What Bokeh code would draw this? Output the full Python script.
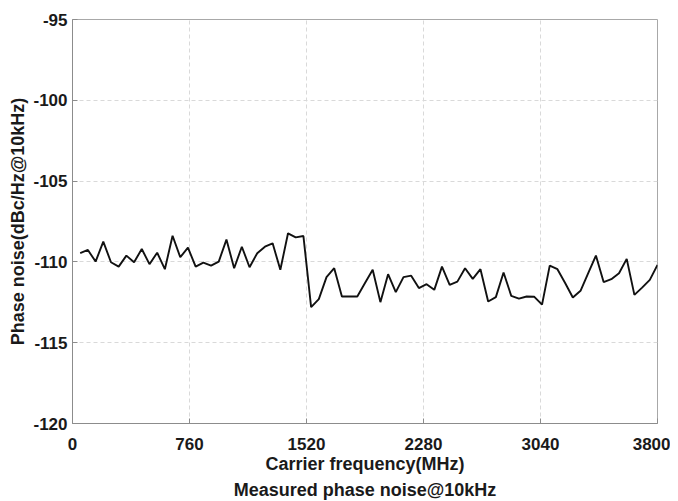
from bokeh.plotting import figure
from bokeh.models import FixedTicker, Title, Range1d, PrintfTickFormatter
from bokeh.embed import file_html
from bokeh.resources import INLINE

freq_mhz = [50, 100, 150, 200, 250, 300, 350, 400, 450, 500,
            550, 600, 650, 700, 750, 800, 850, 900, 950, 1000,
            1050, 1100, 1150, 1200, 1250, 1300, 1350, 1400, 1450, 1500,
            1550, 1600, 1650, 1700, 1750, 1800, 1850, 1900, 1950, 2000,
            2050, 2100, 2150, 2200, 2250, 2300, 2350, 2400, 2450, 2500,
            2550, 2600, 2650, 2700, 2750, 2800, 2850, 2900, 2950, 3000,
            3050, 3100, 3150, 3200, 3250, 3300, 3350, 3400, 3450, 3500,
            3550, 3600, 3650, 3700, 3750, 3800]
phase_noise = [-109.46, -109.26, -109.98, -108.75, -110.02, -110.29, -109.61, -110.02, -109.20, -110.14,
               -109.43, -110.45, -108.38, -109.71, -109.12, -110.29, -110.04, -110.23, -109.98, -108.62,
               -110.39, -109.06, -110.33, -109.46, -109.06, -108.85, -110.49, -108.23, -108.48, -108.40,
               -112.80, -112.30, -110.94, -110.39, -112.14, -112.14, -112.14, -111.31, -110.49, -112.49,
               -110.76, -111.87, -110.94, -110.85, -111.62, -111.38, -111.73, -110.29, -111.42, -111.22,
               -110.39, -111.05, -110.45, -112.45, -112.18, -110.66, -112.10, -112.27, -112.14, -112.16,
               -112.64, -110.23, -110.45, -111.31, -112.20, -111.79, -110.70, -109.61, -111.25, -111.07,
               -110.70, -109.81, -112.04, -111.59, -111.11, -110.19]

x_ticks = [0, 760, 1520, 2280, 3040, 3800]
y_ticks = [-120, -115, -110, -105, -100, -95]

x_label = "Carrier frequency(MHz)"
y_label = "Phase noise(dBc/Hz@10kHz)"
caption = "Measured phase noise@10kHz"

FONT = "Liberation Sans"
TXT = "#1a1a1a"

p = figure(width=670, height=500, output_backend="svg", toolbar_location=None,
           x_range=Range1d(0, 3800), y_range=Range1d(-120, -95),
           min_border_left=72, min_border_right=13, min_border_top=19, min_border_bottom=76)

p.line(freq_mhz, phase_noise, line_color="#111111", line_width=1.9)

p.outline_line_color = "#a8a8a8"
p.outline_line_width = 1

for ax in (p.xaxis[0], p.yaxis[0]):
    ax.axis_line_color = "#8c8c8c"
    ax.major_tick_line_color = "#8c8c8c"
    ax.major_tick_in = 5
    ax.major_tick_out = 0
    ax.minor_tick_line_color = None
    ax.major_label_text_font = FONT
    ax.major_label_text_font_style = "bold"
    ax.major_label_text_font_size = "17px"
    ax.major_label_text_color = TXT
    ax.axis_label_text_font = FONT
    ax.axis_label_text_font_style = "bold"
    ax.axis_label_text_font_size = "18px"
    ax.axis_label_text_color = TXT

p.xaxis.ticker = FixedTicker(ticks=x_ticks)
p.yaxis.ticker = FixedTicker(ticks=y_ticks)
p.xaxis.formatter = PrintfTickFormatter(format="%d")
p.yaxis.formatter = PrintfTickFormatter(format="%d")
p.xaxis.axis_label = x_label
p.yaxis.axis_label = y_label
p.xaxis.major_label_standoff = 14
p.yaxis.major_label_standoff = 5
p.xaxis.axis_label_standoff = 1
p.yaxis.axis_label_standoff = 2

p.xgrid.ticker = FixedTicker(ticks=x_ticks)
p.ygrid.ticker = FixedTicker(ticks=y_ticks)
for g in (p.xgrid[0], p.ygrid[0]):
    g.grid_line_color = "#d9d9d9"
    g.grid_line_dash = "4 3"
    g.grid_line_width = 1

cap = Title(text=caption, align="center", text_font=FONT, text_font_style="bold",
            text_font_size="18px", text_color=TXT, standoff=2)
p.add_layout(cap, "below")

open("out.html", "w").write(file_html(p, INLINE))
